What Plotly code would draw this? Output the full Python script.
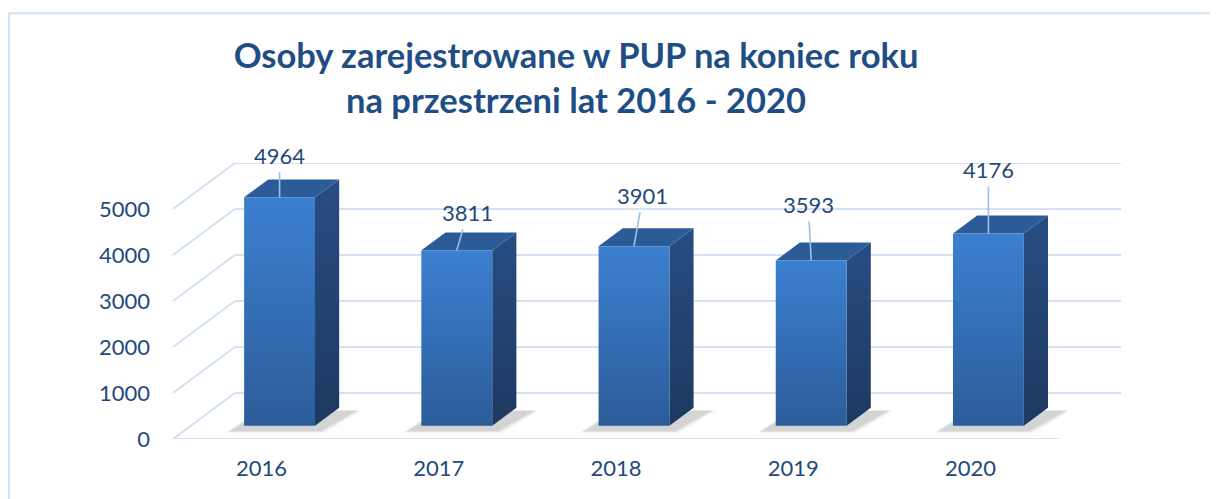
import plotly.graph_objects as go

# ---- data ----
years = ["2016", "2017", "2018", "2019", "2020"]
values = [4964, 3811, 3901, 3593, 4176]
y_ticks = [0, 1000, 2000, 3000, 4000, 5000]
title_text = "Osoby zarejestrowane w PUP na koniec roku<br>na przestrzeni lat 2016 - 2020"
# label offsets (pixels) relative to bar top
label_ax = [0, 11, 9, -3, 0]
label_ay = [-42, -38, -51, -56, -64]

# ---- style / geometry ----
OFF = 8  # page body margin
W, H = 1218 - OFF, 499 - OFF
ML, MT = 173 - OFF, 162.7 - OFF
PW, PH = 948, 276.6
MR, MB = W - ML - PW, H - MT - PH
D = 0.3495          # depth of the 3D floor in x units
DY = 1000           # depth of the 3D floor in y units
F1, F2 = 0.29, 0.68  # bar front/back depth fractions
HALF = 0.2          # half bar width
GRID = "#d5e2f3"
FONT = "Lato"
TXT = "#24497a"

fig = go.Figure()

xs = list(range(len(years)))

# gridlines: front diagonal + back wall line
for t in y_ticks:
    gx = [-0.5, -0.5 + D, 4.5 + D]
    gy = [t, t + DY, t + DY]
    fig.add_trace(go.Scatter(x=gx, y=gy, mode="lines", line=dict(color=GRID, width=2),
                             hoverinfo="skip", showlegend=False, cliponaxis=False))
# floor front edge
fig.add_trace(go.Scatter(x=[-0.5, 4.5], y=[0, 0], mode="lines", line=dict(color=GRID, width=2),
                         hoverinfo="skip", showlegend=False, cliponaxis=False))

dd = (F2 - F1) * D
ddy = (F2 - F1) * DY
for i, v in zip(xs, values):
    cx = i + F1 * D
    x0, x1 = cx - HALF, cx + HALF
    y0 = F1 * DY
    y1 = y0 + v
    # soft shadow layers
    for k, op in [(3, 0.05), (2, 0.07), (1, 0.11)]:
        e = 0.012 * k
        sx = [x0 - 0.07 - e, x1 + 0.02 + e, x1 + dd + 0.09 + e, x0 + dd - 0.02 - e, x0 - 0.07 - e]
        sy = [y0 - 100 - 20 * k, y0 - 100 - 20 * k, y0 + ddy - 60, y0 + ddy - 60, y0 - 100 - 20 * k]
        fig.add_trace(go.Scatter(x=sx, y=sy, fill="toself", mode="none",
                                 fillcolor=f"rgba(60,60,60,{op})", hoverinfo="skip",
                                 showlegend=False))
    # side face
    fig.add_trace(go.Scatter(
        x=[x1, x1 + dd, x1 + dd, x1, x1], y=[y0, y0 + ddy, y1 + ddy, y1, y0],
        fill="toself", mode="lines", line=dict(width=0, color="rgba(0,0,0,0)"),
        fillgradient=dict(type="vertical", colorscale=[[0, "#1d3960"], [1, "#274d82"]]),
        hoverinfo="skip", showlegend=False))
    # top face
    fig.add_trace(go.Scatter(
        x=[x0, x1, x1 + dd, x0 + dd, x0], y=[y1, y1, y1 + ddy, y1 + ddy, y1],
        fill="toself", mode="lines", line=dict(width=0, color="rgba(0,0,0,0)"),
        fillcolor="#2b5c97", hoverinfo="skip", showlegend=False))
    # front face
    fig.add_trace(go.Scatter(
        x=[x0, x1, x1, x0, x0], y=[y0, y0, y1, y1, y0],
        fill="toself", mode="lines", line=dict(width=0, color="rgba(0,0,0,0)"),
        fillgradient=dict(type="vertical",
                          colorscale=[[0, "#2c5c99"], [0.55, "#3470b8"], [1, "#3c7fd0"]]),
        hoverinfo="skip", showlegend=False))

# data labels with leader lines
for i, v, ax, ay in zip(xs, values, label_ax, label_ay):
    fig.add_annotation(x=i + F1 * D, y=F1 * DY + v, text=str(v), showarrow=True,
                       arrowhead=0, arrowwidth=1.6, arrowcolor="#9dc0e8", ax=ax, ay=ay,
                       standoff=0, startstandoff=2,
                       font=dict(family=FONT, size=22, color=TXT))

# chart border (left and top edges visible)
fig.add_shape(type="rect", xref="paper", yref="paper",
              x0=(1 - ML) / PW, x1=(W + 20 - ML) / PW,
              y0=-(H + 20 - (H - MB)) / PH, y1=((H - MB) - (12.7 - OFF)) / PH,
              line=dict(color="#d3e3f6", width=2), fillcolor="rgba(0,0,0,0)", layer="below")

fig.update_layout(
    width=W, height=H,
    margin=dict(l=ML, r=MR, t=MT, b=MB),
    paper_bgcolor="white", plot_bgcolor="white",
    title=dict(text=title_text, x=(576 - OFF) / W, xanchor="center",
               y=1 - (68 - OFF) / H, yanchor="middle",
               xref="container", yref="container",
               font=dict(family=FONT, size=34.5, color="#1f4e85", weight="bold")),
    xaxis=dict(range=[-0.5, 4.5 + D], tickvals=xs, ticktext=years, showgrid=False,
               zeroline=False, showline=False, ticks="", ticklabelstandoff=14,
               tickfont=dict(family=FONT, size=22, color=TXT), fixedrange=True),
    yaxis=dict(range=[0, 6000], tickvals=y_ticks, showgrid=False, zeroline=False,
               showline=False, ticks="", ticklabelstandoff=22,
               tickfont=dict(family=FONT, size=22, color=TXT), fixedrange=True),
    showlegend=False,
)

fig.write_html("out.html")
